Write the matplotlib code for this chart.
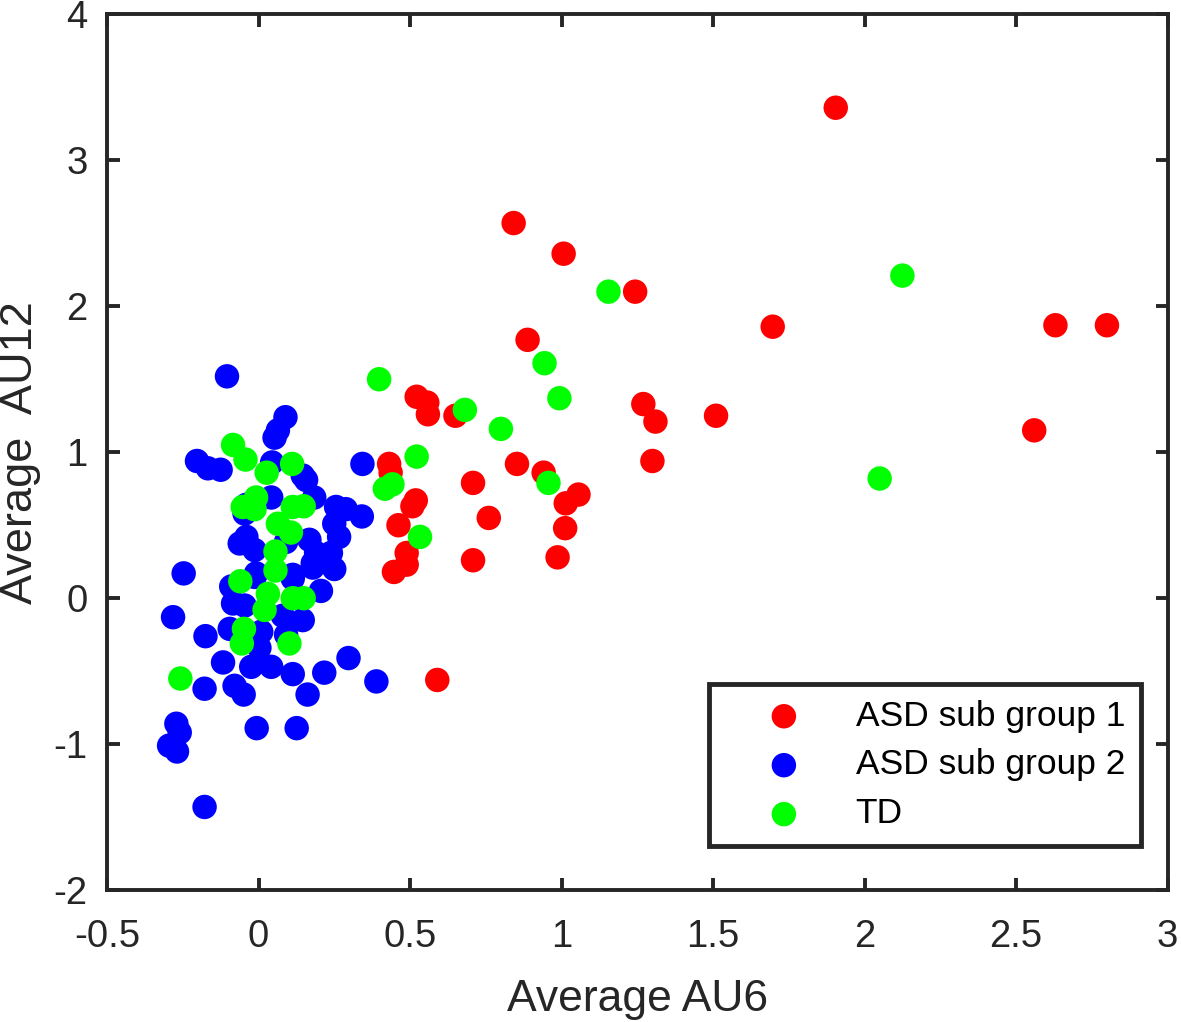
import matplotlib.pyplot as plt
import numpy as np

plt.rcParams['font.family'] = ['Liberation Sans', 'DejaVu Sans']

# ASD sub group 1 (red)
asd1_au6 = [1.905, 0.842, 1.007, 1.243, 1.697, 2.63, 2.80, 0.888, 1.27, 1.31,
            1.51, 1.30, 2.56, 0.853, 0.941, 1.056, 1.014, 1.012, 0.987, 0.708,
            0.76, 0.708, 0.522, 0.557, 0.559, 0.65, 0.431, 0.436, 0.519, 0.508,
            0.462, 0.489, 0.489, 0.447, 0.59]
asd1_au12 = [3.36, 2.57, 2.36, 2.10, 1.86, 1.87, 1.87, 1.77, 1.33, 1.21,
             1.25, 0.94, 1.15, 0.92, 0.86, 0.71, 0.65, 0.48, 0.28, 0.79,
             0.55, 0.26, 1.38, 1.34, 1.26, 1.25, 0.92, 0.86, 0.67, 0.63,
             0.50, 0.31, 0.23, 0.18, -0.56]

# ASD sub group 2 (blue)
asd2_au6 = [-0.104, 0.089, 0.064, 0.053, -0.203, -0.167, -0.125, 0.045, 0.343, 0.146,
            0.157, 0.184, 0.042, -0.04, -0.046, 0.256, 0.288, 0.341, 0.25, 0.266,
            -0.04, -0.062, -0.013, 0.091, 0.168, 0.19, 0.239, 0.179, 0.25, -0.247,
            -0.008, 0.113, 0.179, 0.206, -0.09, -0.013, 0.113, -0.084, -0.046, -0.282,
            0.08, 0.146, -0.095, 0.009, 0.091, -0.175, 0.003, -0.117, -0.024, 0.042,
            0.113, 0.217, 0.297, 0.389, -0.178, -0.079, -0.049, 0.162, -0.271, -0.26,
            -0.006, 0.126, -0.295, -0.269, -0.178]
asd2_au12 = [1.52, 1.24, 1.15, 1.10, 0.94, 0.89, 0.88, 0.93, 0.92, 0.84,
             0.81, 0.69, 0.69, 0.64, 0.58, 0.625, 0.61, 0.56, 0.51, 0.42,
             0.42, 0.375, 0.33, 0.386, 0.40, 0.31, 0.31, 0.24, 0.20, 0.17,
             0.17, 0.16, 0.21, 0.05, 0.08, 0.146, 0.135, -0.036, -0.05, -0.13,
             -0.12, -0.15, -0.21, -0.23, -0.25, -0.26, -0.34, -0.44, -0.47, -0.47,
             -0.52, -0.51, -0.41, -0.57, -0.62, -0.60, -0.66, -0.66, -0.86, -0.92,
             -0.89, -0.89, -1.01, -1.05, -1.43]

# TD (green)
td_au6 = [2.125, 1.155, 0.944, 0.993, 0.80, 0.681, 0.398, 2.05, 0.957, 0.522,
          0.442, 0.417, 0.533, -0.084, -0.043, 0.027, 0.111, -0.008, -0.052, -0.013,
          0.113, 0.149, 0.064, 0.107, 0.056, 0.056, -0.06, 0.031, 0.02, 0.113,
          0.149, -0.048, -0.055, 0.102, -0.258]
td_au12 = [2.21, 2.10, 1.61, 1.37, 1.16, 1.29, 1.50, 0.82, 0.79, 0.97,
           0.78, 0.75, 0.42, 1.05, 0.95, 0.86, 0.92, 0.69, 0.625, 0.61,
           0.625, 0.63, 0.51, 0.45, 0.32, 0.19, 0.116, 0.03, -0.08, 0.0,
           0.0, -0.21, -0.31, -0.31, -0.55]

xticks = [-0.5, 0, 0.5, 1, 1.5, 2, 2.5, 3]
yticks = [-2, -1, 0, 1, 2, 3, 4]

dark = '#262626'

fig = plt.figure(figsize=(11.81, 10.22), dpi=100)
ax = fig.add_axes([0.0906, 0.129, 0.898, 0.857])

ax.scatter(asd1_au6, asd1_au12, s=310, c='#ff0000', edgecolors='none', label='ASD sub group 1')
ax.scatter(asd2_au6, asd2_au12, s=310, c='#0000ff', edgecolors='none', label='ASD sub group 2')
ax.scatter(td_au6, td_au12, s=310, c='#00ff00', edgecolors='none', label='TD')

ax.set_xlim(-0.5, 3)
ax.set_ylim(-2, 4)
ax.set_xticks(xticks)
ax.set_xticklabels(['-0.5', '0', '0.5', '1', '1.5', '2', '2.5', '3'])
ax.set_yticks(yticks)
ax.set_yticklabels([str(t) for t in yticks])

for sp in ax.spines.values():
    sp.set_linewidth(2.8)
    sp.set_color(dark)
ax.tick_params(direction='in', length=9, width=2.8, colors=dark, labelsize=27.5,
               top=True, right=True)
ax.tick_params(axis='x', pad=21)
ax.tick_params(axis='y', pad=14)

ax.set_xlabel('Average AU6', fontsize=32, color=dark, labelpad=17)
ax.set_ylabel('Average  AU12', fontsize=32.5, color=dark, labelpad=9)

leg = ax.legend(loc='lower right', bbox_to_anchor=(0.975, 0.050), fontsize=25.5,
                frameon=True, fancybox=False, edgecolor=dark, framealpha=1,
                handletextpad=0.35, borderpad=0.45, labelspacing=0.45,
                handlelength=3.35, markerscale=1.0, borderaxespad=0)
leg.get_frame().set_linewidth(3.5)

fig.savefig('out.png', dpi=100)
